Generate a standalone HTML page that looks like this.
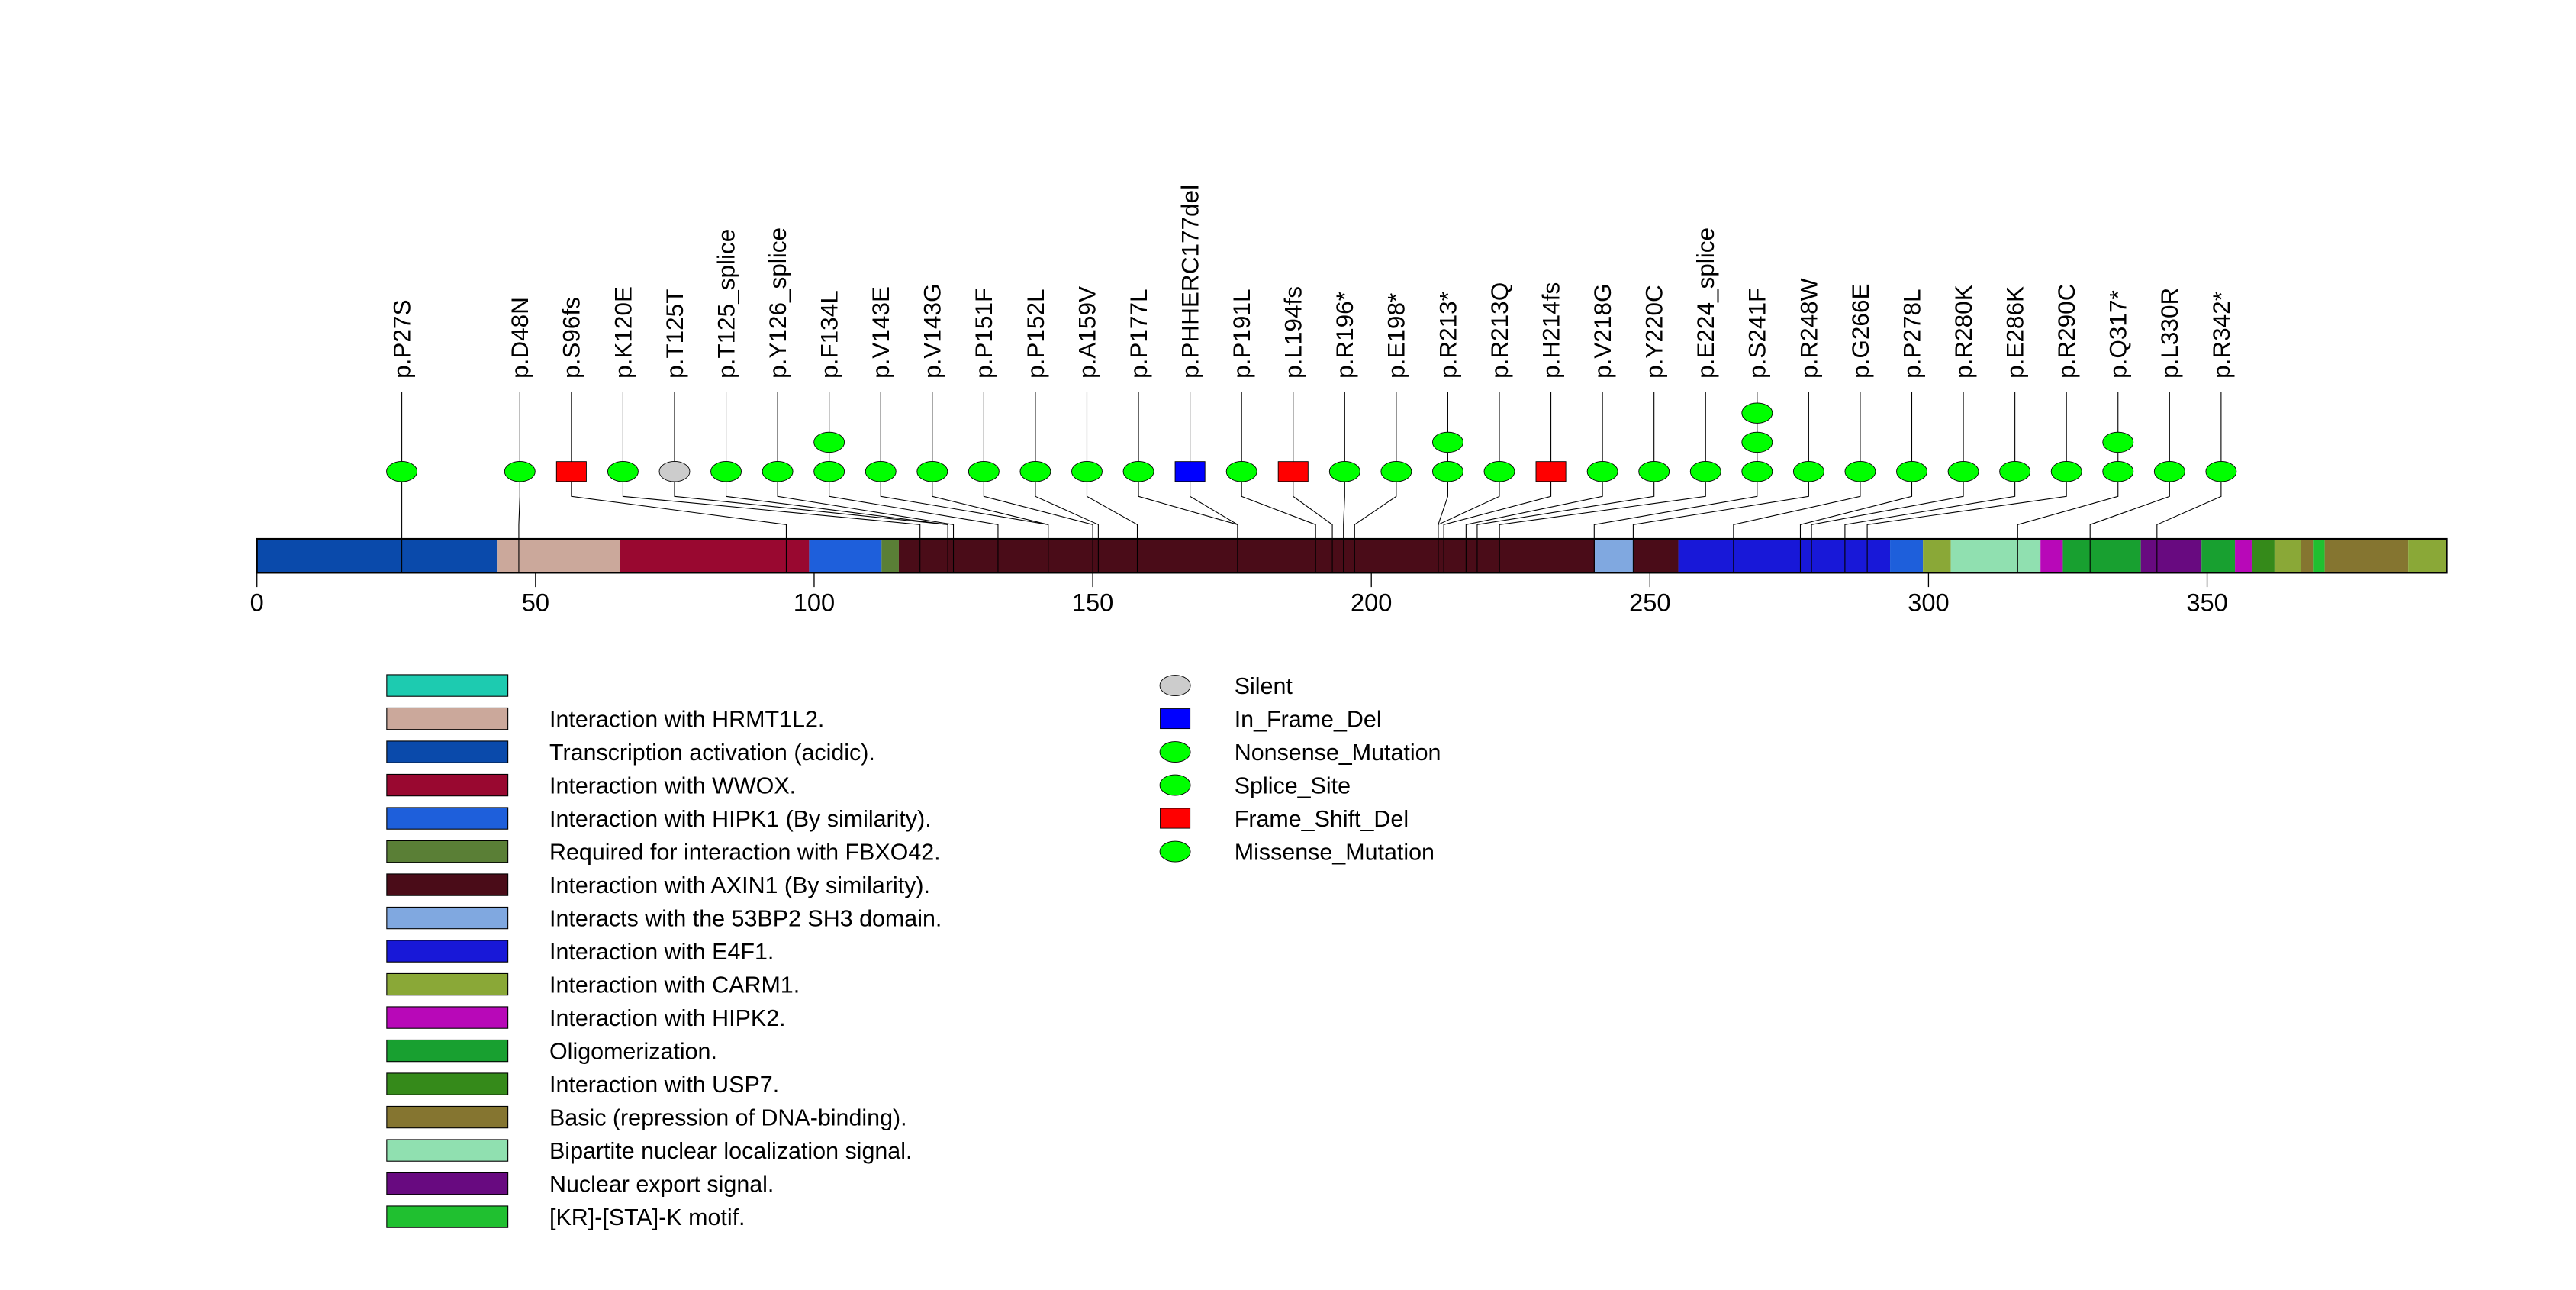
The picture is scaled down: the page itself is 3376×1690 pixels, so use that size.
<!DOCTYPE html>
<html><head><meta charset="utf-8"><style>
html,body{margin:0;padding:0;background:#fff;}
svg{display:block;font-family:"Liberation Sans",sans-serif;}
</style></head><body>
<svg id="chart" width="3376" height="1690" viewBox="0 0 1552 777" preserveAspectRatio="none" xmlns="http://www.w3.org/2000/svg">
<rect x="0" y="0" width="1552" height="777" fill="#fff"/>
</svg>
<script>
// ---- data ----
const mutLabels = ["p.P27S","p.D48N","p.S96fs","p.K120E","p.T125T","p.T125_splice","p.Y126_splice","p.F134L","p.V143E","p.V143G","p.P151F","p.P152L","p.A159V","p.P177L","p.PHHERC177del","p.P191L","p.L194fs","p.R196*","p.E198*","p.R213*","p.R213Q","p.H214fs","p.V218G","p.Y220C","p.E224_splice","p.S241F","p.R248W","p.G266E","p.P278L","p.R280K","p.E286K","p.R290C","p.Q317*","p.L330R","p.R342*"];
const mutPositions = [27,48,96,120,125,125,126,134,143,143,151,152,159,177,177,191,194,196,198,213,213,214,218,220,224,241,248,266,278,280,286,290,317,330,342];
const mutCounts = [1,1,1,1,1,1,1,2,1,1,1,1,1,1,1,1,1,1,1,2,1,1,1,1,1,3,1,1,1,1,1,1,2,1,1];
const mutTypes = ["mis","mis","fs","mis","sil","spl","spl","mis","mis","mis","mis","mis","mis","mis","ifd","mis","fs","non","non","non","mis","fs","mis","mis","spl","mis","mis","mis","mis","mis","mis","mis","non","mis","non"];
const domainStarts = [0,43.2,65.2,99.1,112.1,115.2,240.1,247.1,255.1,293.1,299,304,320.1,324.1,338.1,349,355,358,362.1,366.9,369,371.1,386.1];
const domainEnds   = [43.2,65.2,99.1,112.1,115.2,240.1,247.1,255.1,293.1,299,304,320.1,324.1,338.1,349,355,358,362.1,366.9,369,371.1,386.1,393];
const domainColors = ["#0a4aab","#cba89b","#990830","#1e5fdb","#5a7f36","#4a0c18","#80a8e0","#4a0c18","#1818d8","#1e5fdb","#8aa837","#90e0b0","#b808b8","#18a030","#680a80","#18a030","#b808b8","#358a1a","#8aa837","#857530","#20c030","#857530","#8aa837"];
const proteinLength = 393;
const tickValues = [0,50,100,150,200,250,300,350];
const legendDomainNames = ["","Interaction with HRMT1L2.","Transcription activation (acidic).","Interaction with WWOX.","Interaction with HIPK1 (By similarity).","Required for interaction with FBXO42.","Interaction with AXIN1 (By similarity).","Interacts with the 53BP2 SH3 domain.","Interaction with E4F1.","Interaction with CARM1.","Interaction with HIPK2.","Oligomerization.","Interaction with USP7.","Basic (repression of DNA-binding).","Bipartite nuclear localization signal.","Nuclear export signal.","[KR]-[STA]-K motif."];
const legendDomainColors = ["#1dcbb0","#cba89b","#0a4aab","#990830","#1e5fdb","#5a7f36","#4a0c18","#80a8e0","#1818d8","#8aa837","#b808b8","#18a030","#358a1a","#857530","#90e0b0","#680a80","#20c030"];
const legendTypeNames = ["Silent","In_Frame_Del","Nonsense_Mutation","Splice_Site","Frame_Shift_Del","Missense_Mutation"];
const legendTypeKeys = ["sil","ifd","non","spl","fs","mis"];

// ---- layout ----
const NS = "http://www.w3.org/2000/svg";
const svg = document.getElementById("chart");
const X0 = 154.8, UNIT = 3.357;
function xAxis(u){ return X0 + u*UNIT; }
function xRes(p){ return X0 + (p-1)*UNIT; }
const barTop = 324.6, barBot = 345;
const typeFill = {mis:"#00ff00",non:"#00ff00",spl:"#00ff00",sil:"#cccccc",fs:"#ff0000",ifd:"#0000ff"};
const typeShape = {mis:"ell",non:"ell",spl:"ell",sil:"ell",fs:"sq",ifd:"sq"};
function mk(tag, attrs, parent){
  const e = document.createElementNS(NS, tag);
  for (const k in attrs) e.setAttribute(k, attrs[k]);
  (parent||svg).appendChild(e);
  return e;
}
function labelX(i){ return i===0 ? xRes(mutPositions[0]) : 313.2 + (i-1)*31.06; }

// domains
const gDom = mk("g", {});


domainStarts.forEach((s,i)=>{
  const r = mk("rect", {x:xAxis(s), y:barTop, width:xAxis(domainEnds[i])-xAxis(s), height:barBot-barTop, fill:domainColors[i]}, gDom);
  
  
});

// connector lines
const gLines = mk("g", {stroke:"#000","stroke-width":0.5, fill:"none"});


mutPositions.forEach((p,i)=>{
  const lx = labelX(i), bx = xRes(p);
  const pl = mk("polyline", {points:`${lx},236 ${lx},299 ${bx},316 ${bx},${barBot}`}, gLines);
  
  
});

// bar outline
const outline = mk("rect", {x:xAxis(0), y:barTop, width:xAxis(proteinLength)-xAxis(0), height:barBot-barTop, fill:"none", stroke:"#000","stroke-width":1});



// ticks
const gTicks = mk("g", {});


tickValues.forEach(t=>{
  const tl = mk("line", {x1:xAxis(t), x2:xAxis(t), y1:barBot, y2:353.6, stroke:"#000","stroke-width":0.6}, gTicks);
  
  
  const tx = mk("text", {x:xAxis(t), y:368, "font-size":15, "text-anchor":"middle", fill:"#000"}, gTicks);
  tx.textContent = String(t);
  
  
});

// markers and labels
const gMut = mk("g", {});


mutLabels.forEach((lab,i)=>{
  const lx = labelX(i);
  const t = mk("text", {x:0, y:0, "font-size":14.5, fill:"#000", transform:`translate(${lx+5},228) rotate(-90)`}, gMut);
  t.textContent = lab;
  
  
  for (let k=0;k<mutCounts[i];k++){
    const cy = 284 - k*17.6;
    const ty = mutTypes[i];
    let m;
    if (typeShape[ty]==="sq"){
      m = mk("rect", {x:lx-9, y:cy-6, width:18, height:12, fill:typeFill[ty], stroke:"#000","stroke-width":0.4}, gMut);
    } else {
      m = mk("ellipse", {cx:lx, cy:cy, rx:9.2, ry:6.1, fill:typeFill[ty], stroke:"#000","stroke-width":0.4}, gMut);
    }
    
    
  }
});

// domain legend
const gLeg = mk("g", {});


legendDomainNames.forEach((n,i)=>{
  const y = 412.9 + i*20.0;
  const r = mk("rect", {x:233, y:y-6.5, width:73, height:13, fill:legendDomainColors[i], stroke:"#000","stroke-width":0.5}, gLeg);
  
  
  const t = mk("text", {x:331, y:y+5, "font-size":14, fill:"#000"}, gLeg);
  t.textContent = n;
  
  
});

// type legend
const gLeg2 = mk("g", {});


legendTypeNames.forEach((n,i)=>{
  const y = 412.9 + i*20.0;
  const ty = legendTypeKeys[i];
  let m;
  if (typeShape[ty]==="sq"){
    m = mk("rect", {x:699, y:y-6, width:18, height:12, fill:typeFill[ty], stroke:"#000","stroke-width":0.4}, gLeg2);
  } else {
    m = mk("ellipse", {cx:708, cy:y, rx:9.2, ry:6.2, fill:typeFill[ty], stroke:"#000","stroke-width":0.4}, gLeg2);
  }
  
  
  const t = mk("text", {x:743.7, y:y+5, "font-size":14, fill:"#000"}, gLeg2);
  t.textContent = n;
  
  
});
</script>
</body></html>
